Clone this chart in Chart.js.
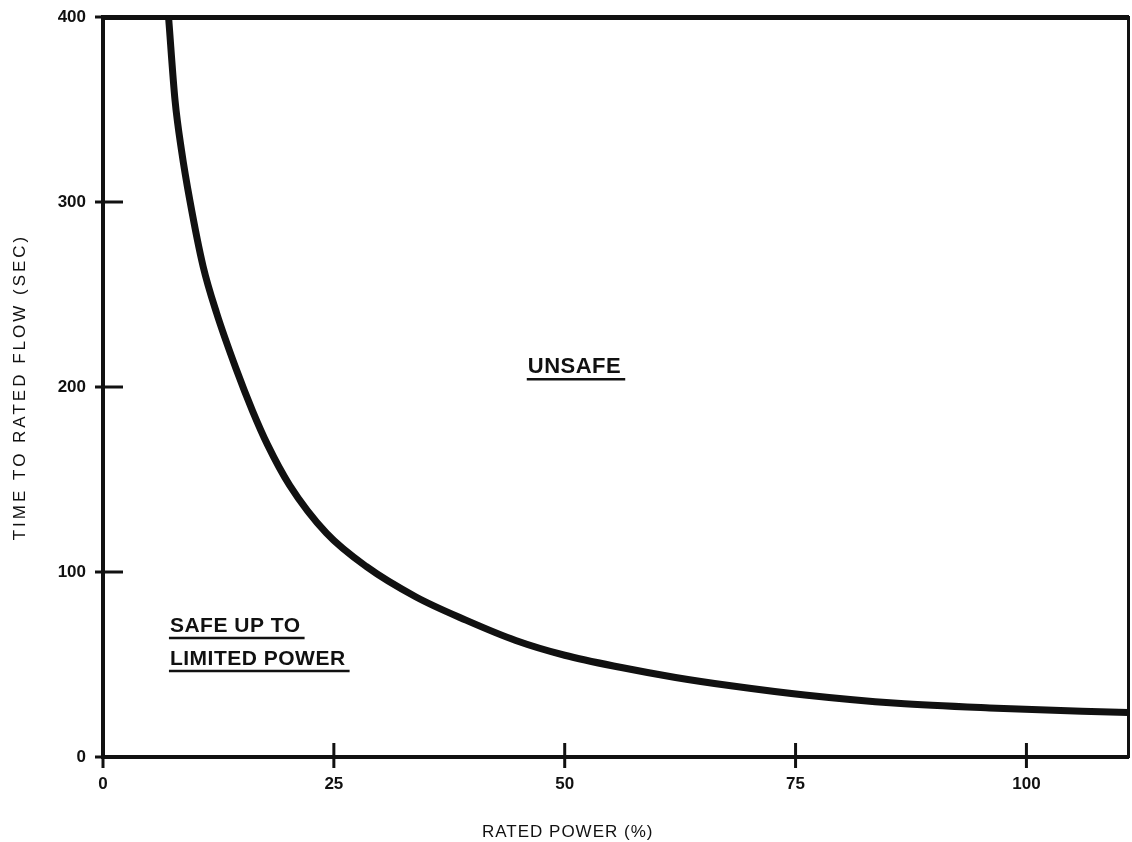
<!DOCTYPE html>
<html>
<head>
<meta charset="utf-8">
<script src="https://cdn.jsdelivr.net/npm/chart.js@4.4.1/dist/chart.umd.min.js"></script>
<style>
  html, body { margin: 0; padding: 0; background: #fff; }
  #wrap { width: 1132px; height: 842px; }
</style>
</head>
<body>
<div id="wrap"><canvas id="chart" width="1132" height="842"></canvas></div>
<script>
// Curva de límite: tiempo hasta caudal nominal vs potencia nominal (%).
// Valores leídos a ojo del gráfico escaneado.
const powerPct = [7.1, 7.8, 8.5, 9.4, 10.85, 12.3, 14.4, 16.2, 17.8, 20.2, 24.2, 28.5,
                  33.9, 39.3, 44.7, 50, 56, 62, 68, 76, 86, 96, 111];
const timeSec  = [400, 355, 328, 301, 265, 240, 210, 187, 169, 147, 121, 103,
                  86.5, 74, 63, 55, 48.5, 43, 38.5, 33.5, 29, 26.5, 24];
const xTicks = [0, 25, 50, 75, 100];
const yTicks = [0, 100, 200, 300, 400];
const xTitle = "RATED POWER (%)";
const yTitle = "TIME TO RATED FLOW (SEC)";
const unsafeLines = ["UNSAFE"];
const safeLines = ["SAFE UP TO", "LIMITED POWER"];

const INK = "#111";
const TICK_FONT = { family: "'Liberation Sans', Arial, sans-serif", size: 17, weight: "bold" };

// marcas de tick que cruzan el eje, textos de ejes y rótulos subrayados
const decorations = {
    id: "decorations",
    afterDraw(chart) {
        const { ctx, chartArea: a, scales: { x, y } } = chart;
        ctx.save();
        ctx.strokeStyle = INK;
        ctx.fillStyle = INK;
        ctx.lineWidth = 3;
        xTicks.forEach((v) => {
            const px = x.getPixelForValue(v);
            ctx.beginPath();
            ctx.moveTo(px, a.bottom - 14);
            ctx.lineTo(px, a.bottom + 11);
            ctx.stroke();
        });
        yTicks.forEach((v) => {
            const py = y.getPixelForValue(v);
            ctx.beginPath();
            ctx.moveTo(a.left - 8, py);
            ctx.lineTo(a.left + 20, py);
            ctx.stroke();
        });

        // títulos de ejes
        ctx.font = "17px 'Liberation Sans', Arial, sans-serif";
        ctx.textAlign = "center";
        ctx.textBaseline = "middle";
        ctx.letterSpacing = "1px";
        ctx.fillText(xTitle, x.getPixelForValue(50) + 3, 832);
        ctx.save();
        ctx.translate(20, (a.top + a.bottom) / 2);
        ctx.rotate(-Math.PI / 2);
        ctx.letterSpacing = "3px";
        ctx.fillText(yTitle, 0, 0);
        ctx.restore();
        ctx.letterSpacing = "0px";

        // rótulos de región
        ctx.textAlign = "left";
        ctx.textBaseline = "alphabetic";
        const label = (lines, xv, yv, step, size, spacing) => {
            ctx.font = `bold ${size}px 'Liberation Sans', Arial, sans-serif`;
            ctx.letterSpacing = spacing;
            const bx = x.getPixelForValue(xv);
            const by = y.getPixelForValue(yv);
            lines.forEach((t, i) => {
                const yy = by + i * step;
                ctx.fillText(t, bx, yy);
                const w = ctx.measureText(t).width;
                ctx.lineWidth = 2.5;
                ctx.beginPath();
                ctx.moveTo(bx - 1, yy + 6);
                ctx.lineTo(bx + w + 4, yy + 6);
                ctx.stroke();
            });
        };
        label(unsafeLines, 46, 207.5, 0, 22, "0.5px");
        label(safeLines, 7.25, 67.6, 33, 21, "0.5px");
        ctx.restore();
    },
};

new Chart(document.getElementById("chart"), {
    type: "line",
    data: {
        datasets: [{
            data: powerPct.map((p, i) => ({ x: p, y: timeSec[i] })),
            borderColor: INK,
            borderWidth: 7,
            pointRadius: 0,
            cubicInterpolationMode: "monotone",
            borderCapStyle: "round",
        }],
    },
    options: {
        responsive: false,
        animation: false,
        layout: { padding: { top: 17, right: 4, left: 0, bottom: 0 } },
        plugins: { legend: { display: false }, tooltip: { enabled: false } },
        scales: {
            x: {
                type: "linear",
                min: 0,
                max: 111,
                afterBuildTicks: (s) => { s.ticks = xTicks.map((v) => ({ value: v })); },
                afterFit: (s) => { s.height = 85; s.paddingLeft = 0; s.paddingRight = 0; },
                ticks: { color: INK, font: TICK_FONT, padding: 17, maxRotation: 0 },
                grid: { drawOnChartArea: false, drawTicks: false },
                border: { color: INK, width: 4 },
            },
            y: {
                min: 0,
                max: 400,
                afterBuildTicks: (s) => { s.ticks = yTicks.map((v) => ({ value: v })); },
                afterFit: (s) => { s.width = 103; s.paddingTop = 0; s.paddingBottom = 0; },
                ticks: { color: INK, font: TICK_FONT, padding: 17 },
                grid: { drawOnChartArea: false, drawTicks: false },
                border: { color: INK, width: 4 },
            },
            xTop: {
                type: "linear",
                position: "top",
                min: 0,
                max: 111,
                afterFit: (s) => { s.height = 0; s.paddingLeft = 0; s.paddingRight = 0; },
                ticks: { display: false },
                grid: { drawOnChartArea: false, drawTicks: false },
                border: { color: INK, width: 5 },
            },
            yRight: {
                position: "right",
                min: 0,
                max: 400,
                afterFit: (s) => { s.width = 0; s.paddingTop = 0; s.paddingBottom = 0; },
                ticks: { display: false },
                grid: { drawOnChartArea: false, drawTicks: false },
                border: { color: INK, width: 3 },
            },
        },
    },
    plugins: [decorations],
});
</script>
</body>
</html>
